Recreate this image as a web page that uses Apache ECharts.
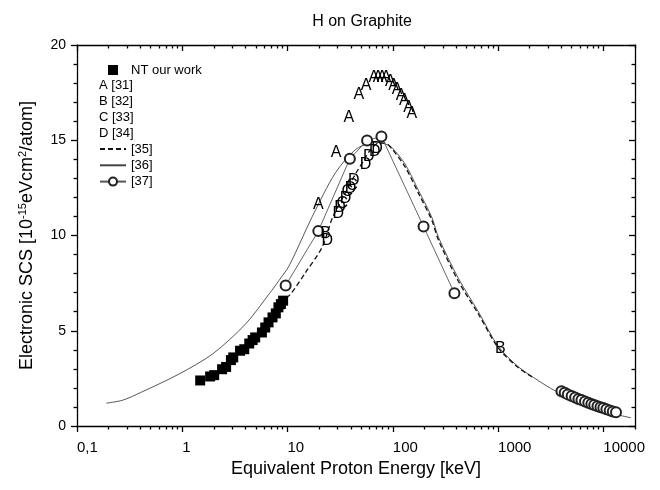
<!DOCTYPE html>
<html><head><meta charset="utf-8">
<script src="https://cdn.jsdelivr.net/npm/echarts@6/dist/echarts.min.js"></script>
<style>html,body{margin:0;padding:0;background:#fff}#c{width:660px;height:490px}</style>
</head><body><div id="c"></div>
<script>
// ---- data (energy in keV, SCS in 1e-15 eVcm2/atom) ----
const NT_E = [1.48,1.84,2.01,2.39,2.61,2.90,3.05,3.54,3.88,4.33,4.66,4.93,5.71,6.14,6.6,7.2,7.74,8.2,8.65,9.08];
const NT_S = [2.39,2.6,2.67,2.98,3.1,3.46,3.6,3.95,4.03,4.33,4.51,4.65,4.91,5.17,5.44,5.7,5.91,6.23,6.4,6.58];
const A_E = [19.6,29.0,38.3,47.6,55.7,65.9,72.4,79.0,86.2,94.8,102,110,120,129,141,152];
const A_S = [11.63,14.37,16.18,17.39,17.87,18.29,18.31,18.31,18.29,18.1,17.87,17.65,17.35,17.09,16.73,16.42];
const B_E = [23.0,1050];
const B_S = [10.09,4.05];
const C_E = [33.1,36.9,41.1];
const C_S = [11.7,12.28,12.63];
const D_E = [23.9,30.3,31.5,35.6,39.7,42.7,55.1,59.2,67.4,70.9];
const D_S = [9.74,11.14,11.49,11.93,12.46,12.89,13.74,14.12,14.38,14.56];
const L35_E = [8.5,10.7,15,21.4,26.6,35.6,44.3,53,61.4,73.6,84,98,131,176,235,272,420,650,1005,1550,2100];
const L35_S = [6.45,6.93,8.1,9.4,10.9,12.27,13.24,13.94,14.5,14.85,14.85,14.55,13.6,12.2,10.8,9.75,7.6,5.88,4.1,3.07,2.58];
const L36_E = [0.19,0.27,0.4,0.94,1.95,4.0,6.7,8.3,10.4,17.2,28.6,44,60,72,90,98,131,176,235,272,420,650,1000,1550,2400,3450,5000,8870,13000,18300];
const L36_S = [1.2,1.35,1.75,2.74,3.79,5.36,6.94,7.64,8.43,11.0,13.3,14.5,14.85,14.9,14.75,14.62,13.75,12.35,10.95,9.9,7.75,6.0,4.2,3.12,2.39,1.86,1.45,0.92,0.62,0.43];
const C37a_E = [9.6,19.6,39.1,57.0,78,196,385];
const C37a_S = [7.38,10.23,14.03,14.99,15.2,10.47,6.97];
const C37b_E = [4000,4300,4600,5000,5400,5800,6200,6700,7200,7700,8200,8800,9400,10000,10700,11500,12300,13200];
const C37b_S = [1.82,1.74,1.66,1.57,1.49,1.42,1.36,1.29,1.22,1.16,1.10,1.04,0.99,0.94,0.88,0.82,0.76,0.72];
const X_MAJOR = [0.1,1,10,100,1000,10000];
const X_LABELS = ['0,1','1','10','100','1000','10000'];

const pairs = (xs, ys) => xs.map((x, i) => [x, ys[i]]);
const X_MINOR = [];
for (let d = 0.1; d < 20000; d *= 10) for (let k = 2; k <= 9; k++) { const v = +(d * k).toPrecision(3); if (v <= 20000) X_MINOR.push(v); }

const FONT = 'Liberation Sans, Arial, sans-serif';
const blk = () => ({color: '#000', width: 1.3});
const xBase = () => ({type: 'log', logBase: 10, min: 0.1, max: 20000, splitLine: {show: false}});
const glyph = (name, letter, xs, ys) => ({
  type: 'scatter', name, data: pairs(xs, ys), symbol: 'circle', symbolSize: 2,
  itemStyle: {color: 'rgba(0,0,0,0)', opacity: 1}, z: 5,
  label: {show: true, position: 'inside', formatter: letter, color: '#000', opacity: 1, fontSize: 16, fontFamily: FONT}
});

const chart = echarts.init(document.getElementById('c'), null, {renderer: 'canvas'});
chart.setOption({
  animation: false,
  backgroundColor: '#fff',
  title: {text: 'H on Graphite', left: 357, top: 9, textAlign: 'center',
    textStyle: {fontSize: 16, fontWeight: 'normal', color: '#000', fontFamily: FONT}},
  grid: {left: 77, right: 25, top: 45, bottom: 64},
  legend: [
    {data: ['NT our work'], orient: 'vertical', left: 108, top: 63.5, padding: 0, itemWidth: 10, itemHeight: 10, selectedMode: false,
      textStyle: {fontSize: 13, color: '#000', fontFamily: FONT, padding: [0, 0, 0, 8]}},
    {data: ['A [31]', 'B [32]', 'C [33]', 'D [34]'], orient: 'vertical', left: 93, top: 78.5, padding: 0, itemWidth: 1, itemHeight: 1, itemGap: 3.3, selectedMode: false,
      textStyle: {fontSize: 13, color: '#000', fontFamily: FONT}},
    {data: [{name: '[35]', itemStyle: {opacity: 0}}, {name: '[36]', itemStyle: {opacity: 0}}, '[37]'], orient: 'vertical', left: 99, top: 142.5, padding: 0,
      itemWidth: 26, itemHeight: 10, itemGap: 3.3, selectedMode: false,
      textStyle: {fontSize: 13, color: '#000', fontFamily: FONT}}
  ],
  xAxis: [
    Object.assign(xBase(), {position: 'bottom',
      axisLine: {show: true, onZero: false, lineStyle: blk()},
      axisTick: {show: true, customValues: X_MAJOR, length: 6, lineStyle: blk()},
      axisLabel: {show: true, customValues: X_MAJOR, formatter: v => X_LABELS[X_MAJOR.findIndex(m => Math.abs(Math.log10(m) - Math.log10(v)) < 1e-6)] || '',
        align: 'left', margin: 14, fontSize: 15, color: '#000', fontFamily: FONT},
      name: 'Equivalent Proton Energy [keV]', nameLocation: 'middle', nameGap: 33,
      nameTextStyle: {fontSize: 18, color: '#000', fontFamily: FONT}}),
    Object.assign(xBase(), {position: 'bottom',
      axisLine: {show: false, onZero: false},
      axisTick: {show: true, customValues: X_MINOR, length: 3.5, lineStyle: blk()},
      axisLabel: {show: false}}),
    Object.assign(xBase(), {position: 'top',
      axisLine: {show: true, onZero: false, lineStyle: blk()},
      axisTick: {show: true, inside: true, customValues: X_MAJOR, length: 6, lineStyle: blk()},
      axisLabel: {show: false}}),
    Object.assign(xBase(), {position: 'top',
      axisLine: {show: false, onZero: false},
      axisTick: {show: true, inside: true, customValues: X_MINOR, length: 3.5, lineStyle: blk()},
      axisLabel: {show: false}})
  ],
  yAxis: [
    {type: 'value', min: 0, max: 20, interval: 5, position: 'left', splitLine: {show: false},
      axisLine: {show: true, onZero: false, lineStyle: blk()},
      axisTick: {show: true, length: 6, lineStyle: blk()},
      minorTick: {show: true, splitNumber: 5, length: 3.5, lineStyle: blk()},
      axisLabel: {fontSize: 14, color: '#000', margin: 11, fontFamily: FONT},
      name: 'Electronic SCS [10{sup|-15}eVcm{sup|2}/atom]', nameLocation: 'middle', nameGap: 40,
      nameTextStyle: {fontSize: 18, color: '#000', fontFamily: FONT,
        rich: {sup: {fontSize: 11, color: '#000', fontFamily: FONT, padding: [0, 0, 9, 0]}}}},
    {type: 'value', min: 0, max: 20, interval: 5, position: 'right', splitLine: {show: false},
      axisLine: {show: true, onZero: false, lineStyle: blk()},
      axisTick: {show: true, inside: true, length: 6, lineStyle: blk()},
      minorTick: {show: true, splitNumber: 5, length: 3.5, lineStyle: blk()},
      axisLabel: {show: false}}
  ],
  series: [
    {type: 'line', name: '[36]', data: pairs(L36_E, L36_S), showSymbol: false, symbol: 'none', smooth: 0.3,
      lineStyle: {color: '#444', width: 0.9}, itemStyle: {color: '#444'}, z: 2},
    {type: 'line', name: '[35]', data: pairs(L35_E, L35_S), showSymbol: false, symbol: 'none', smooth: 0.3,
      lineStyle: {color: '#111', width: 1.3, type: [5, 3]}, itemStyle: {color: '#111'}, z: 2},
    {type: 'line', name: '[37]', data: pairs(C37a_E, C37a_S), symbol: 'emptyCircle', symbolSize: 10, showSymbol: true,
      lineStyle: {color: '#555', width: 0.9}, itemStyle: {color: '#222', borderWidth: 0.9}, z: 4},
    {type: 'line', name: '[37]', data: pairs(C37b_E, C37b_S), symbol: 'emptyCircle', symbolSize: 10, showSymbol: true,
      lineStyle: {color: '#555', width: 0.9}, itemStyle: {color: '#222', borderWidth: 0.9}, z: 4},
    {type: 'scatter', name: 'NT our work', data: pairs(NT_E, NT_S), symbol: 'rect', symbolSize: 10,
      itemStyle: {color: '#000', opacity: 1}, z: 3},
    glyph('A [31]', 'A', A_E, A_S),
    glyph('B [32]', 'B', B_E, B_S),
    glyph('C [33]', 'C', C_E, C_S),
    glyph('D [34]', 'D', D_E, D_S)
  ]
});
</script></body></html>
